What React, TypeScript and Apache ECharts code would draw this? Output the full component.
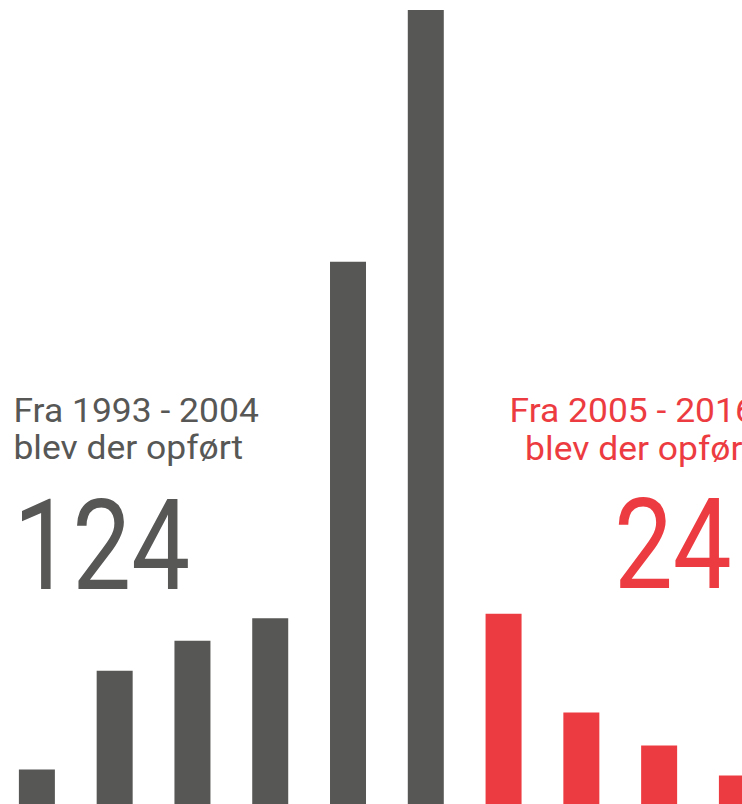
import React, { useEffect, useRef } from "react";
import * as echarts from "echarts";

const periods = ["1993-94", "1995-96", "1997-98", "1999-00", "2001-02", "2003-04", "2005-06", "2007-08", "2009-10", "2011-12"];
const before2005 = [2.3, 8.9, 10.9, 12.4, 36.2, 53, null, null, null, null];
const from2005 = [null, null, null, null, null, null, 12.7, 6.1, 3.9, 1.9];
const leftLines = ["Fra 1993 - 2004", "blev der opført"];
const rightLines = ["Fra 2005 - 2016", "blev der opført"];
const leftTotal = "124";
const rightTotal = "24";

const GRAY = "#575756";
const RED = "#ED3C41";
const FONT = "Roboto";
const SHIFT = 1.9;

export default function App() {
  const ref = useRef<HTMLDivElement>(null);
  useEffect(() => {
    document.body.style.margin = "0";
    const chart = echarts.init(ref.current!, undefined, { renderer: "svg" });
    const small = (text: string, x: number, y: number, color: string, align: string) => ({
      type: "text",
      x: x + SHIFT,
      y,
      scaleX: 1.075,
      style: { text, fill: color, fontFamily: FONT, fontSize: 33, fontWeight: 400, textAlign: align, textVerticalAlign: "middle" },
    });
    const big = (text: string, x: number, y: number, color: string, align: string) => ({
      type: "text",
      x: x + SHIFT,
      y,
      scaleX: 0.826,
      style: { text, fill: color, fontFamily: FONT, fontSize: 127, fontWeight: 400, textAlign: align, textVerticalAlign: "middle" },
    });
    chart.setOption({
      animation: false,
      grid: { left: 0, right: 800 - 777.8, top: 10, bottom: 0, containLabel: false },
      xAxis: { type: "category", data: periods, show: false },
      yAxis: { type: "value", min: 0, max: 53, show: false },
      series: [
        { type: "bar", data: before2005, barWidth: 36, barGap: "-100%", itemStyle: { color: GRAY } },
        { type: "bar", data: from2005, barWidth: 36, itemStyle: { color: RED } },
      ],
      graphic: [
        small(leftLines[0], 13.5, 410.4, GRAY, "left"),
        small(leftLines[1], 13.5, 447.2, GRAY, "left"),
        big(leftTotal, 13.4, 545.5, GRAY, "left"),
        small(rightLines[0], 755, 410.4, RED, "right"),
        small(rightLines[1], 755, 448.5, RED, "right"),
        big(rightTotal, 614, 544.5, RED, "left"),
      ],
    });
    return () => chart.dispose();
  }, []);
  return (
    <div style={{ position: "relative", width: 742, height: 804, overflow: "hidden" }}>
      <div ref={ref} style={{ position: "absolute", left: -SHIFT, top: 0, width: 800, height: 804 }} />
    </div>
  );
}
